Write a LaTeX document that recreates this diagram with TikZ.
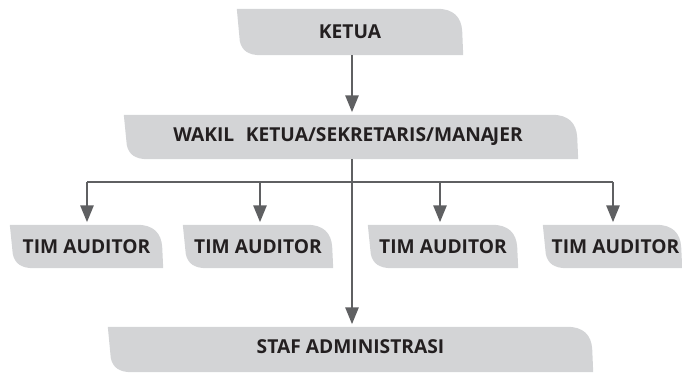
\documentclass[tikz,border=0pt]{standalone}
\usepackage{fontspec}
\setmainfont{Open Sans}
\usetikzlibrary{arrows.meta,backgrounds}
\definecolor{boxfill}{HTML}{D3D4D6}
\definecolor{linegray}{HTML}{5F6062}
\definecolor{textdark}{HTML}{231F20}
\newcommand\leafshape[1]{%
  \begin{scope}[on background layer]
  \fill[boxfill] (#1.north west) -- ([xshift=-26pt]#1.north east)
    .. controls ([xshift=-10pt]#1.north east) and ([xshift=-2pt,yshift=-8pt]#1.north east)
    .. ([xshift=-1pt,yshift=-22pt]#1.north east) -- (#1.south east)
    -- ([xshift=24pt]#1.south west)
    .. controls ([xshift=11pt]#1.south west) and ([xshift=5pt,yshift=5pt]#1.south west)
    .. ([xshift=3pt,yshift=14pt]#1.south west) -- cycle;
  \end{scope}}
\begin{document}
\begin{tikzpicture}[x=1pt,y=-1pt,
  leaf/.style={rectangle,inner sep=0pt,font=\bfseries\fontsize{19.2pt}{21pt}\selectfont,text=textdark},
  arr/.style={draw=linegray,line width=2.8pt,-{Triangle[length=17pt,width=13pt]},shorten >=2.5pt},
  plain/.style={draw=linegray,line width=2.8pt}]
\useasboundingbox (0,0) rectangle (682,372);
\node[leaf,minimum width=226pt,minimum height=46pt] (ketua) at (350,32) {KETUA};
\node[leaf,minimum width=454pt,minimum height=44pt] (wakil) at (351,137) {\hspace*{-6pt}WAKIL\hspace{0.6em}KETUA/SEKRETARIS/MANA\kern-1.3pt JER};
\node[leaf,minimum width=153pt,minimum height=43pt] (tim1) at (86.5,246.5) {TIM AUDITOR};
\node[leaf,minimum width=150pt,minimum height=43pt] (tim2) at (258,246.5) {TIM AUDITOR};
\node[leaf,minimum width=150pt,minimum height=43pt] (tim3) at (443,246.5) {TIM AUDITOR};
\node[leaf,minimum width=139pt,minimum height=43pt] (tim4) at (612.5,246.5) {\hspace*{6pt}TIM AUDITOR};
\node[leaf,minimum width=485pt,minimum height=45pt] (staf) at (350.5,349.5) {\raisebox{5pt}{STAF ADMINISTRASI}};
\leafshape{ketua}
\leafshape{wakil}
\leafshape{tim1}
\leafshape{tim2}
\leafshape{tim3}
\leafshape{tim4}
\leafshape{staf}
\coordinate (spine) at (352,0);
\coordinate (hub) at (352,182);
\draw[arr] (ketua.south -| spine) -- (wakil.north -| spine);
\draw[arr] (wakil.south -| spine) -- (staf.north -| spine);
\draw[plain] ([xshift=0.5pt]tim1.north |- hub) -- ([xshift=0.5pt]tim4.north |- hub);
\draw[arr] ([xshift=0.5pt]tim1.north |- hub) -- ([xshift=0.5pt]tim1.north);
\draw[arr] ([xshift=2pt]tim2.north |- hub) -- ([xshift=2pt]tim2.north);
\draw[arr] ([xshift=-3pt]tim3.north |- hub) -- ([xshift=-3pt]tim3.north);
\draw[arr] ([xshift=0.5pt]tim4.north |- hub) -- ([xshift=0.5pt]tim4.north);
\end{tikzpicture}
\end{document}
